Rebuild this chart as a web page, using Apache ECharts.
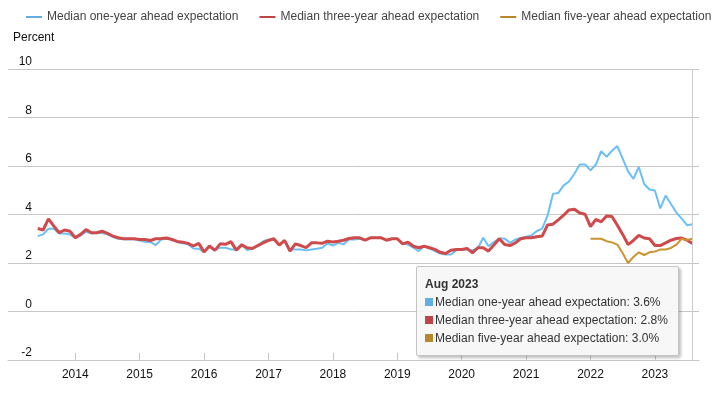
<!DOCTYPE html>
<html>
<head>
    <meta charset="utf-8">
    <title>Inflation expectations</title>
    <script src="https://cdn.jsdelivr.net/npm/echarts@6/dist/echarts.min.js"></script>
    <style>
        html, body { margin: 0; padding: 0; background: #ffffff; }
        #chart { width: 713px; height: 396px; }
    </style>
</head>
<body>
    <div id="chart"></div>
    <script>
        // first month of the survey series (June 2013)
        var startYear = 2013, startMonth = 6;
        // five-year series starts later (January 2022)
        var fiveStartYear = 2022, fiveStartMonth = 1;

        var seriesNames = [
            'Median one-year ahead expectation',
            'Median three-year ahead expectation',
            'Median five-year ahead expectation'
        ];
        var seriesColors = ['#62aee0', '#bd4545', '#b8862b'];

        var yearTicks = [2014, 2015, 2016, 2017, 2018, 2019, 2020, 2021, 2022, 2023];
        var monthNames = ['Jan', 'Feb', 'Mar', 'Apr', 'May', 'Jun', 'Jul', 'Aug', 'Sep', 'Oct', 'Nov', 'Dec'];

        // monthly medians, percent
        var oneYear = [
            3.11, 3.18, 3.41, 3.41, 3.22, 3.22, 3.18,
            3.04, 3.14, 3.29, 3.22, 3.24, 3.24, 3.18, 3.08, 3.0, 2.98, 2.98, 2.98,
            2.93, 2.88, 2.86, 2.74, 2.97, 3.0, 2.98, 2.86, 2.81, 2.77, 2.6, 2.59,
            2.45, 2.7, 2.56, 2.63, 2.63, 2.56, 2.56, 2.77, 2.53, 2.59, 2.7, 2.9,
            2.97, 2.97, 2.74, 2.9, 2.56, 2.56, 2.56, 2.52, 2.56, 2.59, 2.63, 2.81,
            2.72, 2.83, 2.77, 2.97, 2.97, 3.0, 2.94, 3.04, 3.04, 3.04, 2.94, 3.0,
            3.0, 2.79, 2.76, 2.63, 2.49, 2.69, 2.6, 2.49, 2.39, 2.35, 2.35, 2.53,
            2.56, 2.56, 2.53, 2.6, 3.04, 2.69, 2.86, 3.01, 3.01, 2.83, 2.97, 3.03,
            3.08, 3.14, 3.32, 3.42, 3.95, 4.85, 4.89, 5.2, 5.36, 5.68, 6.06, 6.06,
            5.82, 6.06, 6.61, 6.38, 6.63, 6.82, 6.3, 5.78, 5.47, 5.96, 5.26, 5.03,
            4.99, 4.25, 4.78, 4.43, 4.08, 3.83, 3.56, 3.6
        ];
        var threeYear = [
            3.42, 3.36, 3.82, 3.52, 3.25, 3.36, 3.31,
            3.04, 3.18, 3.38, 3.25, 3.25, 3.31, 3.22, 3.11, 3.04, 3.0, 3.0, 3.0,
            2.97, 2.97, 2.93, 3.0, 3.01, 3.03, 2.97, 2.89, 2.86, 2.81, 2.7, 2.81,
            2.45, 2.7, 2.52, 2.79, 2.77, 2.88, 2.53, 2.75, 2.63, 2.6, 2.72, 2.83,
            2.93, 3.0, 2.74, 2.93, 2.49, 2.79, 2.72, 2.63, 2.83, 2.83, 2.81, 2.9,
            2.87, 2.9, 2.94, 3.01, 3.04, 3.04, 2.94, 3.04, 3.04, 3.04, 2.94, 3.0,
            3.0, 2.79, 2.86, 2.69, 2.63, 2.69, 2.63, 2.56, 2.44, 2.39, 2.53, 2.56,
            2.56, 2.6, 2.42, 2.63, 2.63, 2.49, 2.74, 3.0, 2.76, 2.72, 2.83, 3.0,
            3.04, 3.04, 3.08, 3.11, 3.57, 3.6, 3.78, 3.97, 4.19, 4.22, 4.06, 4.01,
            3.5, 3.8, 3.7, 3.94, 3.92, 3.56, 3.18, 2.76, 2.93, 3.14, 3.03, 3.0,
            2.72, 2.72, 2.83, 2.94, 3.01, 3.03, 2.94, 2.8
        ];
        var fiveYear = [
            3.0, 3.0, 3.0, 2.9, 2.85, 2.76, 2.4, 2.0, 2.25, 2.44, 2.33, 2.44,
            2.47, 2.56, 2.56, 2.62, 2.76, 3.0, 2.95, 3.0
        ];

        // x = year + (month - 1) / 12
        function toPairs(values, y0, m0) {
            return values.map(function (v, i) {
                return [y0 + (m0 - 1 + i) / 12, v];
            });
        }

        function monthLabel(x) {
            var idx = Math.round(x * 12);
            return monthNames[idx % 12] + ' ' + Math.floor(idx / 12);
        }

        var chart = echarts.init(document.getElementById('chart'));
        var font = '"Liberation Sans", Arial, sans-serif';

        var option = {
            animation: false,
            textStyle: { fontFamily: font },
            color: seriesColors,
            title: {
                text: 'Percent',
                left: 13,
                top: 32,
                padding: 0,
                textStyle: { fontSize: 12, fontWeight: 'normal', color: '#111', fontFamily: font }
            },
            legend: {
                data: seriesNames,
                left: 26,
                top: 11,
                width: 700,
                padding: 0,
                icon: 'rect',
                itemWidth: 16,
                itemHeight: 2,
                itemGap: 21,
                textStyle: { fontSize: 12, color: '#444', fontFamily: font }
            },
            grid: { left: 8, right: 14, top: 69, bottom: 36, containLabel: false },
            tooltip: {
                trigger: 'axis',
                triggerOn: 'none',
                alwaysShowContent: true,
                transitionDuration: 0,
                position: [416, 266],
                backgroundColor: 'rgba(247,247,247,0.95)',
                borderColor: '#c4c4c4',
                borderWidth: 1,
                padding: [8, 10, 8, 8],
                extraCssText: 'border-radius:2px;box-shadow:2px 2px 3px rgba(0,0,0,0.25);',
                textStyle: { fontSize: 12, color: '#333', fontFamily: font },
                axisPointer: {
                    type: 'line',
                    lineStyle: { color: '#cccccc', width: 1, type: 'solid' }
                },
                formatter: function (params) {
                    var html = '<div style="line-height:18px;font-weight:bold">' + monthLabel(params[0].value[0]) + '</div>';
                    params.forEach(function (p) {
                        html += '<div style="line-height:18px">' +
                            '<span style="display:inline-block;width:8px;height:8px;margin-right:2px;background:' + p.color + '"></span>' +
                            p.seriesName + ': ' + p.value[1].toFixed(1) + '%</div>';
                    });
                    return html;
                }
            },
            xAxis: {
                type: 'value',
                min: 2012.955,
                max: 2023.685,
                splitLine: { show: false },
                axisLine: { show: true, onZero: false, lineStyle: { color: '#c6c6c6' } },
                axisTick: {
                    show: true,
                    inside: true,
                    length: 7,
                    customValues: yearTicks,
                    lineStyle: { color: '#c6c6c6' }
                },
                axisLabel: {
                    customValues: yearTicks,
                    margin: 9,
                    fontSize: 12,
                    color: '#111',
                    formatter: function (v) { return String(Math.round(v)); }
                }
            },
            yAxis: {
                type: 'value',
                min: -2,
                max: 10,
                interval: 2,
                axisLine: { show: false },
                axisTick: { show: false },
                splitLine: { lineStyle: { color: '#c6c6c6', width: 1 } },
                axisLabel: {
                    inside: true,
                    align: 'right',
                    verticalAlign: 'bottom',
                    margin: 24,
                    padding: [0, 0, 1, 0],
                    fontSize: 12,
                    color: '#111'
                }
            },
            series: [
                {
                    name: seriesNames[0],
                    type: 'line',
                    symbol: 'none',
                    lineStyle: { width: 2 },
                    data: toPairs(oneYear, startYear, startMonth)
                },
                {
                    name: seriesNames[1],
                    type: 'line',
                    symbol: 'none',
                    lineStyle: { width: 3 },
                    data: toPairs(threeYear, startYear, startMonth)
                },
                {
                    name: seriesNames[2],
                    type: 'line',
                    symbol: 'none',
                    lineStyle: { width: 2 },
                    data: toPairs(fiveYear, fiveStartYear, fiveStartMonth)
                }
            ]
        };

        chart.setOption(option);
        // hover state on the last month, as in the reference
        chart.dispatchAction({ type: 'showTip', seriesIndex: 0, dataIndex: oneYear.length - 1 });
    </script>
</body>
</html>
